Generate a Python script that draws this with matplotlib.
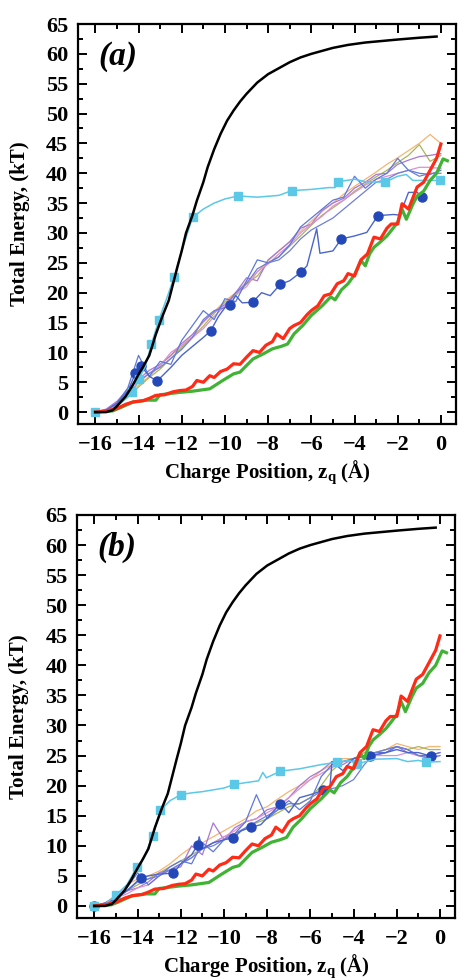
import matplotlib
matplotlib.use("Agg")
import matplotlib.pyplot as plt
from matplotlib.ticker import MultipleLocator

plt.rcParams['font.family'] = 'Liberation Serif'
plt.rcParams['font.weight'] = 'bold'
plt.rcParams['axes.labelweight'] = 'bold'
plt.rcParams['mathtext.fontset'] = 'custom'
plt.rcParams['mathtext.rm'] = 'Liberation Serif:bold'
plt.rcParams['mathtext.it'] = 'Liberation Serif:bold'

# reference curves, the same in both panels
black_x = [-16, -15.5, -15.2, -15, -14.6, -14.3, -14, -13.8, -13.5, -13.2, -12.9, -12.6, -12.4, -12.2,
           -12, -11.8, -11.5, -11.3, -11, -10.8, -10.5, -10.2, -9.9, -9.6, -9.3, -9, -8.5, -8, -7.5,
           -7, -6.5, -6, -5.5, -5, -4.3, -3.5, -2.6, -2, -1, -0.2]
black_y = [0, 0, 0.3, 1.0, 2.6, 4.3, 6.3, 7.5, 9.5, 13.0, 16.0, 18.7, 21.5, 24.3,
           27.0, 30.0, 33.0, 35.4, 38.5, 41.0, 44.0, 46.6, 48.8, 50.5, 52.0, 53.3, 55.2, 56.6, 57.6,
           58.6, 59.4, 60.0, 60.5, 61.0, 61.5, 61.9, 62.2, 62.4, 62.7, 62.9]

red_x = [-16, -15.5, -15, -14.6, -14.25, -13.8, -13.5, -13.2, -12.8, -12.4, -12.1, -11.8, -11.5, -11.3,
         -11.0, -10.7, -10.5, -10.2, -9.9, -9.6, -9.3, -9.0, -8.7, -8.4, -8.1, -7.8, -7.6, -7.3, -7.0,
         -6.8, -6.5, -6.2, -6.0, -5.7, -5.4, -5.1, -4.8, -4.5, -4.3, -4.0, -3.7, -3.4, -3.1, -2.8,
         -2.5, -2.3, -2.0, -1.8, -1.5, -1.1, -0.8, -0.5, -0.2, 0]
red_y = [0, 0.2, 0.6, 1.3, 1.7, 1.9, 2.3, 2.8, 2.9, 3.4, 3.6, 3.7, 4.3, 5.3,
         5.0, 6.1, 5.8, 6.8, 7.2, 8.1, 8.0, 9.2, 10.3, 10.0, 11.2, 11.8, 13.1, 12.3, 14.0,
         14.5, 15.0, 16.3, 17.0, 17.8, 19.5, 19.8, 21.5, 22.0, 23.2, 22.8, 25.5, 26.5, 29.3, 29.0,
         30.8, 31.5, 31.5, 34.9, 34.0, 37.7, 38.5, 40.5, 42.5, 44.9]

green_x = [-16, -15.2, -14.8, -14.25, -13.6, -13.2, -13.0, -12.1, -11.5, -10.7, -10.1, -9.6, -9.3, -8.7,
           -8.2, -7.8, -7.4, -7.1, -6.8, -6.4, -6.0, -5.5, -5.1, -4.9, -4.6, -4.3, -4.0, -3.7, -3.5,
           -3.3, -3.1, -2.8, -2.5, -2.3, -2.0, -1.8, -1.6, -1.3, -1.1, -0.8, -0.5, -0.2, 0.1, 0.3]
green_y = [0, 0.2, 0.8, 1.7, 2.0, 2.0, 2.9, 3.3, 3.5, 3.9, 5.3, 6.4, 6.7, 8.9,
           9.8, 10.6, 11.0, 11.4, 13.1, 14.5, 16.2, 17.8, 19.3, 18.8, 20.5, 21.5, 23.0, 25.4, 24.5,
           26.5, 27.6, 28.5, 29.5, 30.4, 31.8, 34.0, 32.3, 34.8, 36.2, 37.0, 38.8, 40.0, 42.4, 42.1]

# thin trajectories share one x grid
thin_x = [-16, -15.5, -15, -14.5, -14, -13.5, -13, -12.5, -12, -11.5, -11, -10.5, -10, -9.5, -9, -8.5,
          -8, -7.5, -7, -6.5, -6, -5.5, -5, -4.5, -4, -3.5, -3, -2.5, -2, -1.5, -1, -0.5, 0]

# panel (a)
a_orange = [0, 0.3, 1.2, 3.0, 4.5, 6.0, 7.8, 9.5, 11.0, 13.0, 15.0, 16.8, 18.6, 20.0, 21.8, 23.5,
            25.3, 27.0, 28.6, 30.3, 32.0, 33.6, 35.0, 36.5, 37.8, 39.0, 40.2, 41.5, 42.6, 43.8, 45.0, 46.5, 45.0]
a_olive = [0, 0.3, 1.0, 2.5, 4.2, 5.8, 7.2, 9.0, 10.8, 12.6, 14.4, 16.5, 18.4, 19.5, 21.5, 22.8,
           25.0, 26.0, 27.8, 29.5, 31.3, 33.0, 34.2, 35.5, 37.0, 38.2, 39.4, 40.5, 41.8, 43.0, 44.8, 42.0, 43.0]
a_purple = [0, 0.5, 1.8, 3.8, 5.5, 7.0, 8.0, 9.5, 11.5, 13.0, 15.2, 16.8, 18.0, 20.0, 22.5, 22.0,
            25.5, 27.0, 28.5, 30.8, 31.5, 33.8, 35.0, 35.8, 37.5, 38.5, 39.8, 40.0, 41.5, 42.2, 42.8, 43.0, 43.3]
a_pink = [0, 0.4, 1.5, 4.0, 5.2, 6.5, 7.8, 10.0, 11.2, 12.5, 14.0, 16.0, 17.8, 19.8, 21.0, 23.5,
          24.8, 26.5, 28.0, 30.0, 31.5, 32.8, 34.5, 35.5, 36.8, 38.0, 39.0, 39.5, 40.0, 40.5, 41.0, 41.0, 40.8]
a_blue1 = [0, 0.3, 1.5, 4.0, 9.5, 6.0, 8.5, 8.0, 12.0, 14.5, 17.0, 15.5, 19.0, 18.5, 22.0, 25.5,
           25.0, 26.0, 28.0, 31.0, 32.5, 34.0, 35.5, 36.0, 39.5, 37.5, 39.0, 40.0, 42.5, 40.5, 40.0, 39.8, 40.5]
a_blue2 = [0, 0.3, 1.2, 3.0, 5.0, 6.5, 7.5, 9.0, 10.5, 12.5, 15.5, 17.0, 17.5, 20.0, 21.5, 24.0,
           25.0, 25.5, 27.0, 29.0, 30.5, 31.5, 32.5, 34.0, 35.5, 37.0, 38.5, 39.0, 40.0, 40.5, 39.5, 40.0, 40.0]

a_cyan_x = [-16, -15.5, -15, -14.5, -14.28, -14, -13.7, -13.4, -13.05, -12.7, -12.35, -12, -11.5, -11,
            -10.5, -10, -9.4, -8.5, -7.5, -6.9, -6, -5.2, -4.9, -4.75, -4, -3.5, -2.6, -2, -1.6, -1.3,
            -0.5, -0.05]
a_cyan_y = [0, 0.2, 1.0, 2.5, 3.3, 5.5, 7.5, 11.4, 15.5, 19.0, 22.6, 27.0, 32.6, 34.0,
            35.0, 35.7, 36.2, 36.0, 36.3, 37.1, 37.3, 37.6, 37.6, 38.6, 39.0, 38.6, 38.5, 39.5, 39.8, 38.8,
            38.8, 38.8]
a_cyan_marks = [0, 4, 5, 7, 8, 10, 12, 16, 19, 23, 26, 31]

a_dots_x = [-16, -15.5, -15, -14.5, -14.14, -13.88, -13.5, -13.14, -12.5, -12, -11.5, -11, -10.66, -10.3,
            -10, -9.76, -9.5, -9.2, -8.72, -8.3, -7.9, -7.44, -7.0, -6.46, -6.2, -5.75, -5.6, -5.0,
            -4.61, -4.0, -3.43, -2.92, -2.2, -1.9, -1.5, -1.1, -0.86]
a_dots_y = [0, 0.3, 1.5, 3.5, 6.5, 7.7, 6.0, 5.2, 7.5, 9.5, 11.0, 12.5, 13.6, 16.0,
            17.5, 18.0, 19.5, 18.3, 18.4, 20.0, 19.5, 21.4, 22.0, 23.5, 24.5, 30.7, 26.6, 27.0,
            29.0, 29.5, 30.1, 32.9, 33.1, 33.0, 36.8, 36.8, 36.0]
a_dots_marks = [4, 5, 7, 12, 15, 18, 21, 23, 28, 31, 36]

# panel (b)
b_orange = [0, 0.5, 1.8, 3.5, 4.5, 5.0, 5.8, 7.0, 8.5, 9.8, 10.5, 11.5, 12.5, 13.5, 14.5, 15.8,
            16.5, 17.8, 19.0, 20.0, 21.0, 22.5, 23.5, 24.5, 24.5, 25.0, 25.5, 26.0, 27.0, 26.5, 26.0, 26.5, 26.5]
b_olive = [0, 0.4, 1.5, 2.5, 3.5, 4.5, 5.5, 6.5, 7.5, 8.5, 9.5, 10.5, 11.5, 12.0, 12.8, 13.8,
           14.5, 15.5, 16.5, 17.0, 18.0, 20.0, 22.5, 24.0, 24.5, 25.5, 25.5, 26.0, 26.5, 26.0, 26.5, 26.0, 26.0]
b_purple = [0, 0.5, 1.5, 2.5, 3.0, 4.0, 5.5, 6.0, 6.5, 10.0, 8.5, 13.8, 11.0, 13.0, 14.0, 14.5,
            16.0, 16.5, 18.0, 20.0, 21.5, 22.5, 24.0, 23.5, 24.5, 25.0, 25.0, 25.5, 26.5, 25.5, 25.0, 25.0, 25.5]
b_pink = [0, 0.5, 1.3, 2.0, 3.0, 3.5, 5.0, 6.0, 7.0, 8.0, 9.5, 10.5, 11.5, 12.5, 14.0, 14.5,
          15.5, 16.5, 18.0, 19.5, 21.0, 22.0, 23.0, 24.0, 24.0, 24.5, 25.0, 25.0, 25.0, 25.5, 25.0, 24.8, 25.0]
b_blue1 = [0, 0.5, 1.5, 3.0, 5.5, 3.5, 5.0, 6.5, 7.5, 7.0, 10.5, 9.0, 11.0, 12.0, 14.0, 18.5,
           14.5, 16.0, 17.5, 16.0, 17.5, 21.5, 23.5, 24.0, 24.5, 25.0, 25.5, 25.5, 26.5, 26.0, 25.0, 25.0, 25.5]
b_blue2 = [0, 0.4, 1.2, 2.5, 4.0, 4.5, 5.0, 6.0, 7.0, 8.0, 9.5, 10.0, 11.0, 12.0, 13.0, 14.0,
           15.0, 16.0, 17.0, 17.0, 18.0, 19.0, 19.5, 20.0, 21.0, 23.5, 25.5, 26.0, 26.5, 26.0, 25.0, 24.5, 25.0]

b_cyan_x = [-16, -15.5, -15, -14.5, -14.04, -13.7, -13.3, -12.94, -12.5, -12.0, -11.5, -11, -10.5, -10,
            -9.52, -9, -8.4, -8.2, -8.04, -7.39, -6.5, -5.5, -4.76, -4.2, -3.85, -3, -2, -1.5, -1,
            -0.65, 0]
b_cyan_y = [0, 0.3, 1.8, 3.5, 6.4, 8.0, 11.7, 15.9, 17.5, 18.5, 18.8, 19.0, 19.3, 19.6,
            20.2, 20.5, 20.8, 22.2, 21.3, 22.4, 22.8, 23.5, 23.9, 24.2, 23.6, 24.4, 24.5, 24.0, 24.2,
            23.9, 24.0]
b_cyan_marks = [0, 2, 4, 6, 7, 9, 14, 19, 22, 24, 29]

b_dots_x = [-16, -15.5, -15, -14.5, -14.2, -13.84, -13.5, -13, -12.34, -12, -11.5, -11.21, -11.15, -11,
            -10.5, -10, -9.56, -9.2, -8.75, -8.3, -7.9, -7.39, -7.0, -6.5, -6.0, -5.42, -5.1, -5.0,
            -4.5, -4.0, -3.6, -3.25, -2.5, -2.0, -1.5, -1.0, -0.42]
b_dots_y = [0, 0.4, 1.2, 2.5, 3.5, 4.7, 5.0, 5.3, 5.45, 7.0, 8.5, 10.2, 11.5, 9.5,
            10.5, 11.0, 11.3, 12.5, 13.1, 13.5, 15.0, 17.0, 15.5, 18.0, 18.5, 19.2, 19.5, 24.0,
            22.5, 24.5, 24.8, 25.0, 25.5, 26.0, 25.5, 25.5, 24.9]
b_dots_marks = [0, 5, 8, 11, 16, 18, 21, 25, 31, 36]

thin_colors = ['#f6b470', '#a8b65a', '#a678d8', '#dc8fd6', '#5b78dc', '#6f7fd8']
panels = [
    ('(a)', [a_orange, a_olive, a_purple, a_pink, a_blue1, a_blue2],
     a_cyan_x, a_cyan_y, a_cyan_marks, a_dots_x, a_dots_y, a_dots_marks),
    ('(b)', [b_orange, b_olive, b_purple, b_pink, b_blue1, b_blue2],
     b_cyan_x, b_cyan_y, b_cyan_marks, b_dots_x, b_dots_y, b_dots_marks),
]
rects = [[0.170, 0.5673, 0.8235, 0.4082], [0.168, 0.0633, 0.8235, 0.4112]]

fig = plt.figure(figsize=(4.59, 9.8), dpi=100)

for rect, (tag, thins, cx, cy, cm, dx, dy, dm) in zip(rects, panels):
    ax = fig.add_axes(rect)
    for ys, c in zip(thins, thin_colors):
        ax.plot(thin_x, ys, color=c, lw=0.9, zorder=2)
    ax.plot(dx, dy, color='#4a66cc', lw=1.0, marker='o', ms=6.5, mfc='#2448b8', mec='#2448b8',
            markevery=dm, zorder=3)
    ax.plot(cx, cy, color='#5cc8e8', lw=1.1, marker='s', ms=6, mfc='#5cc8e8', mec='#5cc8e8',
            markevery=cm, zorder=3)
    ax.plot(green_x, green_y, color='#40b234', lw=2.3, zorder=4)
    ax.plot(red_x, red_y, color='#ff2b17', lw=2.3, zorder=4)
    ax.plot(black_x, black_y, color='black', lw=1.8, zorder=5)

    ax.set_xlim(-16.8, 0.7)
    ax.set_ylim(-2, 65)
    ax.xaxis.set_major_locator(MultipleLocator(2))
    ax.xaxis.set_minor_locator(MultipleLocator(1))
    ax.yaxis.set_major_locator(MultipleLocator(5))
    ax.yaxis.set_minor_locator(MultipleLocator(2.5))
    ax.tick_params(which='both', direction='in', top=True, right=True, width=1.4,
                   labelsize=16)
    ax.tick_params(which='major', length=6.5)
    ax.tick_params(which='minor', length=3.5)
    ax.tick_params(axis='x', pad=8)
    ax.tick_params(axis='y', pad=7)
    for s in ax.spines.values():
        s.set_linewidth(1.6)

    ax.set_xlabel(r'Charge Position, $\mathregular{z_q}$ (Å)', fontsize=15)
    ax.set_ylabel('Total Energy, (kT)', fontsize=15)
    ax.yaxis.set_label_coords(-0.128, 0.5)
    ax.xaxis.set_label_coords(0.5, -0.085)
    ax.text(0.053, 0.92, tag, transform=ax.transAxes, fontsize=24, style='italic',
            fontweight='bold', va='center', ha='left')

fig.savefig('out.png', dpi=100)
